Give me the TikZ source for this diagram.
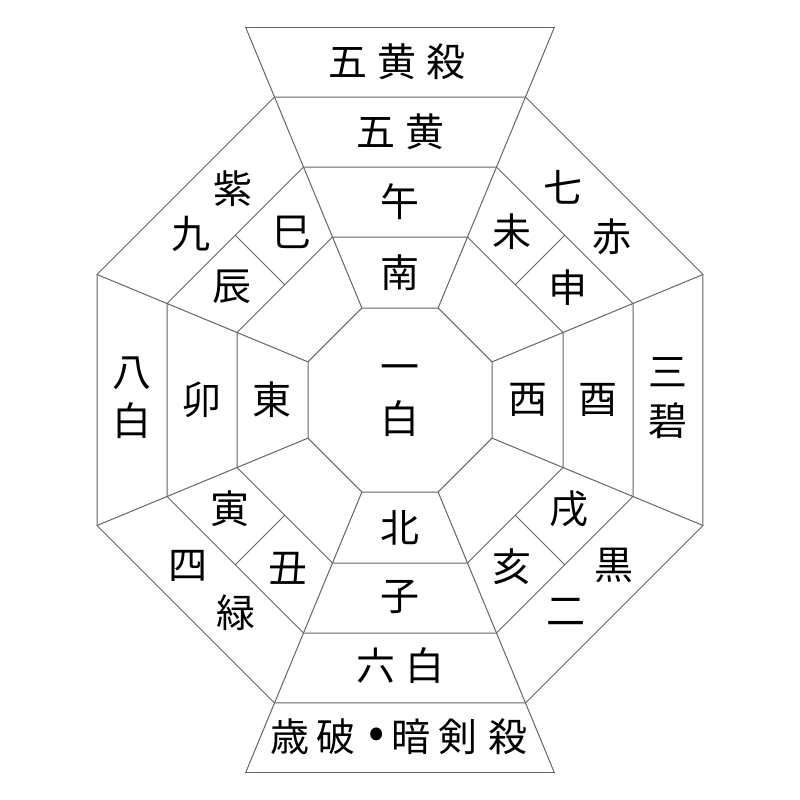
\documentclass[tikz,border=0pt]{standalone}
\usepackage{fontspec}
\newfontfamily\jp{Noto Sans CJK JP}
\definecolor{linegray}{RGB}{100,100,100}
\tikzset{
  ln/.style={draw=linegray, line width=1pt},
  ch/.style={font=\jp\fontsize{39}{39}\selectfont, inner sep=0pt, text=black}
}
\begin{document}
\begin{tikzpicture}[x=1pt,y=-1pt]
\useasboundingbox (0,0) rectangle (800,800);
\begin{scope}[shift={(400,400)}]
  % concentric octagons
  \foreach \a in {92,163,233,303}{
    \draw[ln] (22.5:{\a*1.0823922}) -- (67.5:{\a*1.0823922}) -- (112.5:{\a*1.0823922})
      -- (157.5:{\a*1.0823922}) -- (202.5:{\a*1.0823922}) -- (247.5:{\a*1.0823922})
      -- (292.5:{\a*1.0823922}) -- (337.5:{\a*1.0823922}) -- cycle;
  }
  % radial lines
  \foreach \ang/\r in {22.5/303, 67.5/373, 112.5/373, 157.5/303, 202.5/303, 247.5/373, 292.5/373, 337.5/303}
    \draw[ln] (\ang:{92*1.0823922}) -- (\ang:{\r*1.0823922});
  % outer top and bottom boxes
  \draw[ln] (67.5:{373*1.0823922}) -- (112.5:{373*1.0823922});
  \draw[ln] (247.5:{373*1.0823922}) -- (292.5:{373*1.0823922});
  % diagonal dividers in the second ring
  \foreach \ang in {45,135,225,315}
    \draw[ln] (\ang:163) -- (\ang:233);
\end{scope}
% characters
\foreach \t/\x/\y [count=\i] in {
  五/348/62, 黄/397/62, 殺/446/62,
  五/376/132, 黄/425/132,
  午/400/202, 南/400/273,
  一/400/373, 白/400/419,
  東/272/400, 卯/202/400, 八/132/373, 白/132/421,
  西/528/400, 酉/598/400, 三/668/372, 碧/668/421,
  北/400/528, 子/400/597, 六/376/666, 白/425/666,
  歳/290/737, 破/336/737, 暗/411/737, 剣/458/737, 殺/508/737,
  紫/233/189, 九/191/234, 巳/292/232, 辰/232/287,
  七/563/187, 赤/612/237, 未/512/232, 申/568/288,
  戌/569/509, 亥/512/567, 黒/614/565, 二/566/612,
  寅/230/509, 丑/288/568, 四/188/566, 緑/236/613}
  \node[ch] (c\i) at (\x,\y) {\t};
\node[ch, font=\jp\fontsize{48}{48}\selectfont] (dot) at (377,738) {•};
\end{tikzpicture}
\end{document}
